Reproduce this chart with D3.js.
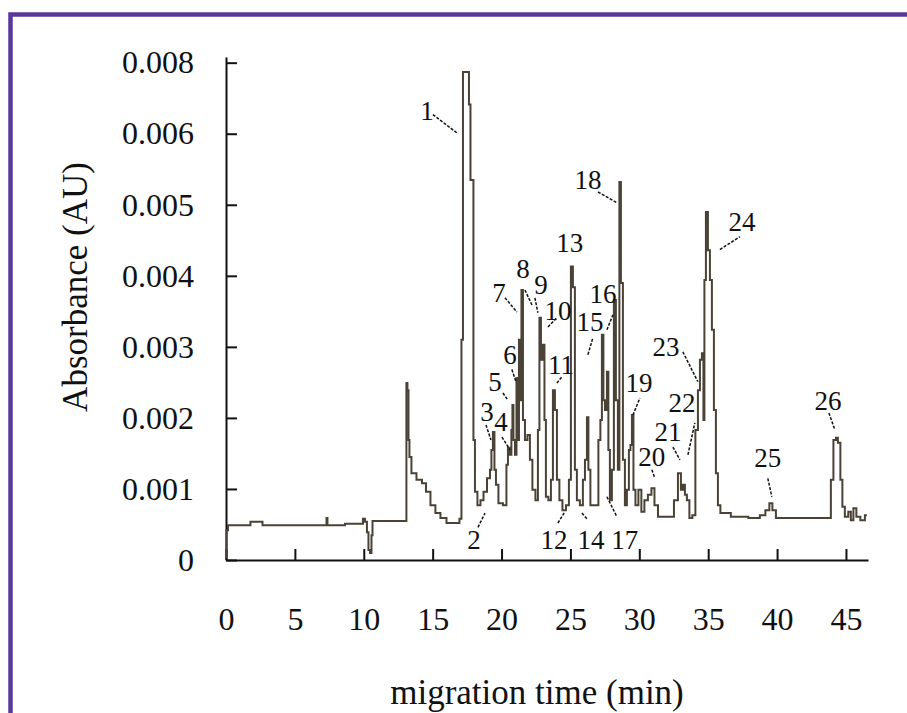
<!DOCTYPE html>
<html>
<head>
<meta charset="utf-8">
<script src="https://cdn.jsdelivr.net/npm/d3@7"></script>
<style>
  body { margin: 0; background: #fff; }
  svg text { font-family: "Liberation Serif", "Times New Roman", serif; fill: #111; }
</style>
</head>
<body>
<div id="chart"></div>
<script>
// electropherogram trace
var time = [0.00, 0.07, 0.22, 1.74, 1.81, 2.61, 2.69, 7.26, 7.33, 7.40,
    9.87, 10.01, 10.16, 10.30, 10.38, 10.52, 10.60, 10.67, 13.06, 13.13,
    13.21, 13.28, 13.35, 13.57, 14.08, 14.37, 14.66, 15.02, 15.38, 15.75,
    16.26, 16.84, 17.05, 17.13, 17.27, 17.56, 17.71, 17.78, 17.92, 18.00,
    18.14, 18.36, 18.58, 18.80, 19.09, 19.23, 19.30, 19.45, 19.52, 19.67,
    19.88, 20.32, 20.39, 20.54, 20.68, 20.75, 20.83, 20.90, 21.05, 21.12,
    21.19, 21.34, 21.41, 21.48, 21.63, 21.77, 21.99, 22.13, 22.35, 22.57,
    22.71, 22.79, 22.93, 23.08, 23.15, 23.29, 23.51, 23.66, 23.80, 23.95,
    24.09, 24.31, 24.53, 24.82, 24.96, 25.11, 25.25, 25.40, 25.54, 25.83,
    25.98, 26.13, 26.27, 26.34, 26.56, 26.92, 27.14, 27.21, 27.36, 27.43,
    27.58, 27.72, 27.79, 27.94, 28.08, 28.23, 28.37, 28.52, 28.59, 28.74,
    28.88, 29.03, 29.17, 29.32, 29.39, 29.54, 29.61, 29.83, 30.04, 30.26,
    30.48, 30.77, 30.99, 31.21, 31.50, 32.37, 32.66, 32.95, 33.09, 33.24,
    33.38, 33.53, 33.74, 33.96, 34.18, 34.33, 34.47, 34.62, 34.69, 34.76,
    34.91, 35.05, 35.20, 35.34, 35.49, 35.63, 35.78, 35.99, 37.30, 38.53,
    38.97, 39.33, 39.55, 39.77, 40.06, 43.83, 43.98, 44.20, 44.34, 44.49,
    44.70, 44.78, 45.06, 45.28, 45.43, 45.65, 45.86, 46.23, 46.52];

var absorbance = [0.00004, 0.00042, 0.00049, 0.00049, 0.00054, 0.00054, 0.00049, 0.00049, 0.00059, 0.00049,
    0.00051, 0.00058, 0.00054, 0.00039, 0.00014, 0.00010, 0.00035, 0.00055, 0.00055, 0.00249,
    0.00239, 0.00169, 0.00145, 0.00122, 0.00113, 0.00108, 0.00096, 0.00077, 0.00066, 0.00059,
    0.00052, 0.00052, 0.00058, 0.00310, 0.00687, 0.00687, 0.00641, 0.00535, 0.00535, 0.00169,
    0.00096, 0.00077, 0.00084, 0.00096, 0.00115, 0.00127, 0.00155, 0.00180, 0.00127, 0.00106,
    0.00080, 0.00077, 0.00134, 0.00158, 0.00148, 0.00183, 0.00218, 0.00169, 0.00148, 0.00256,
    0.00169, 0.00310, 0.00225, 0.00380, 0.00197, 0.00169, 0.00176, 0.00141, 0.00099, 0.00084,
    0.00183, 0.00341, 0.00282, 0.00303, 0.00197, 0.00089, 0.00084, 0.00113, 0.00239, 0.00211,
    0.00113, 0.00084, 0.00070, 0.00077, 0.00113, 0.00413, 0.00384, 0.00127, 0.00084, 0.00077,
    0.00113, 0.00141, 0.00201, 0.00127, 0.00077, 0.00077, 0.00169, 0.00197, 0.00317, 0.00225,
    0.00211, 0.00265, 0.00155, 0.00084, 0.00127, 0.00366, 0.00225, 0.00127, 0.00532, 0.00390,
    0.00141, 0.00077, 0.00099, 0.00155, 0.00162, 0.00204, 0.00099, 0.00077, 0.00099, 0.00068,
    0.00084, 0.00092, 0.00101, 0.00077, 0.00061, 0.00061, 0.00084, 0.00122, 0.00099, 0.00106,
    0.00092, 0.00084, 0.00059, 0.00063, 0.00183, 0.00239, 0.00282, 0.00291, 0.00197, 0.00394,
    0.00490, 0.00436, 0.00394, 0.00324, 0.00211, 0.00122, 0.00077, 0.00066, 0.00061, 0.00059,
    0.00063, 0.00070, 0.00080, 0.00070, 0.00059, 0.00059, 0.00113, 0.00169, 0.00172, 0.00165,
    0.00113, 0.00075, 0.00061, 0.00068, 0.00056, 0.00073, 0.00061, 0.00056, 0.00063];

// axis ticks (the top label really reads 0.008 in the original)
var xTickValues = [0, 5, 10, 15, 20, 25, 30, 35, 40, 45];
var yTickValues = [0, 0.001, 0.002, 0.003, 0.004, 0.005, 0.006, 0.007];
var yTickLabels = ['0', '0.001', '0.002', '0.003', '0.004', '0.005', '0.006', '0.008'];

// peak numbers: label centre and leader line ends, in data units
var peakNames = ['1', '2', '3', '4', '5', '6', '7', '8', '9', '10', '11', '12', '13',
    '14', '15', '16', '17', '18', '19', '20', '21', '22', '23', '24', '25', '26'];
var labelTime = [14.59, 18.00, 18.94, 19.96, 19.52, 20.61, 19.81, 21.55, 22.86, 24.09, 24.31, 23.80, 24.96,
    26.49, 26.42, 27.36, 28.95, 26.27, 29.97, 30.91, 32.08, 33.09, 31.93, 37.45, 39.33, 43.69];
var labelAbs = [0.00632, 0.00028, 0.00208, 0.00194, 0.00251, 0.00289, 0.00376, 0.00410, 0.00387, 0.00351, 0.00275, 0.00028, 0.00446,
    0.00028, 0.00335, 0.00374, 0.00028, 0.00535, 0.00249, 0.00145, 0.00180, 0.00221, 0.00300, 0.00476, 0.00144, 0.00224];
var leadT1 = [15.02, 18.29, 18.87, 20.03, 20.10, 20.75, 20.25, 21.70, 22.42, 23.37, 24.02, 24.09, null,
    25.83, 26.27, 27.65, 27.65, 27.00, 29.54, 30.91, 32.44, 33.53, 33.16, 35.85, 39.33, 43.76];
var leadA1 = [0.00627, 0.00046, 0.00190, 0.00173, 0.00235, 0.00268, 0.00369, 0.00380, 0.00369, 0.00328, 0.00249, 0.00052, null,
    0.00066, 0.00289, 0.00324, 0.00089, 0.00518, 0.00204, 0.00127, 0.00159, 0.00148, 0.00293, 0.00437, 0.00115, 0.00207];
var leadT2 = [16.84, 18.80, 19.23, 20.61, 20.46, 21.05, 21.12, 22.21, 22.64, 24.02, 24.38, 24.60, null,
    26.20, 26.63, 28.08, 28.37, 28.37, 30.04, 31.13, 32.95, 34.03, 34.25, 37.30, 39.62, 44.20];
var leadA2 = [0.00600, 0.00066, 0.00169, 0.00155, 0.00225, 0.00251, 0.00349, 0.00359, 0.00348, 0.00341, 0.00258, 0.00068, null,
    0.00058, 0.00313, 0.00345, 0.00061, 0.00503, 0.00228, 0.00115, 0.00141, 0.00193, 0.00251, 0.00455, 0.00089, 0.00183];

var global_width = 907,
    global_height = 713;

var svg = d3.select('#chart')
    .append('svg')
    .attr('width', global_width)
    .attr('height', global_height);

// purple frame, only top and left edges visible
svg.append('rect')
    .attr('x', 10.5)
    .attr('y', 14.5)
    .attr('width', 1200)
    .attr('height', 1200)
    .attr('fill', 'none')
    .attr('stroke', '#58389a')
    .attr('stroke-width', 4.5);

// scales
var xScale = d3.scaleLinear().domain([0, 46.6]).range([226, 868]),
    yScale = d3.scaleLinear().domain([0, 0.00708]).range([560, 57]);

// x axis, ticks pointing up into the plot
var xAxis = d3.axisBottom(xScale)
    .tickValues(xTickValues)
    .tickSizeInner(-11)
    .tickSizeOuter(0)
    .tickPadding(47)
    .tickFormat(d3.format('d'));

svg.append('g')
    .attr('id', 'x-axis')
    .attr('transform', 'translate(0,560)')
    .call(xAxis);

// y axis, ticks pointing right
var yAxis = d3.axisLeft(yScale)
    .tickValues(yTickValues)
    .tickSizeInner(-11)
    .tickSizeOuter(0)
    .tickPadding(32)
    .tickFormat(function(d, i) { return yTickLabels[i]; });

svg.append('g')
    .attr('id', 'y-axis')
    .attr('transform', 'translate(226,0)')
    .call(yAxis);

svg.selectAll('#x-axis path, #y-axis path, #x-axis line, #y-axis line')
    .attr('stroke', '#111')
    .attr('stroke-width', 2);

svg.selectAll('#x-axis text, #y-axis text')
    .attr('font-family', '"Liberation Serif", serif')
    .attr('font-size', '32px')
    .attr('fill', '#111');

// axis titles
svg.append('text')
    .attr('x', 537)
    .attr('y', 704)
    .attr('text-anchor', 'middle')
    .attr('font-size', '35px')
    .text('migration time (min)');

svg.append('text')
    .attr('transform', 'translate(87,287) rotate(-90)')
    .attr('text-anchor', 'middle')
    .attr('font-size', '35px')
    .text('Absorbance (AU)');

// the trace, stepped like the detector output
var line = d3.line()
    .x(function(d, i) { return xScale(time[i]); })
    .y(function(d) { return yScale(d); })
    .curve(d3.curveStep);

svg.append('path')
    .datum(absorbance)
    .attr('fill', 'none')
    .attr('stroke', '#4a4236')
    .attr('stroke-width', 2)
    .attr('d', line);

// peak labels with leader lines
var peaks = svg.append('g').attr('id', 'peaks');

for (var i = 0; i < peakNames.length; i++) {
    if (leadT1[i] !== null) {
        peaks.append('line')
            .attr('x1', xScale(leadT1[i]))
            .attr('y1', yScale(leadA1[i]))
            .attr('x2', xScale(leadT2[i]))
            .attr('y2', yScale(leadA2[i]))
            .attr('stroke', '#111')
            .attr('stroke-width', 1.5)
            .attr('stroke-dasharray', '3,1.5');
    }
    peaks.append('text')
        .attr('x', xScale(labelTime[i]))
        .attr('y', yScale(labelAbs[i]))
        .attr('dy', '0.33em')
        .attr('text-anchor', 'middle')
        .attr('font-size', '27px')
        .text(peakNames[i]);
}
</script>
</body>
</html>
